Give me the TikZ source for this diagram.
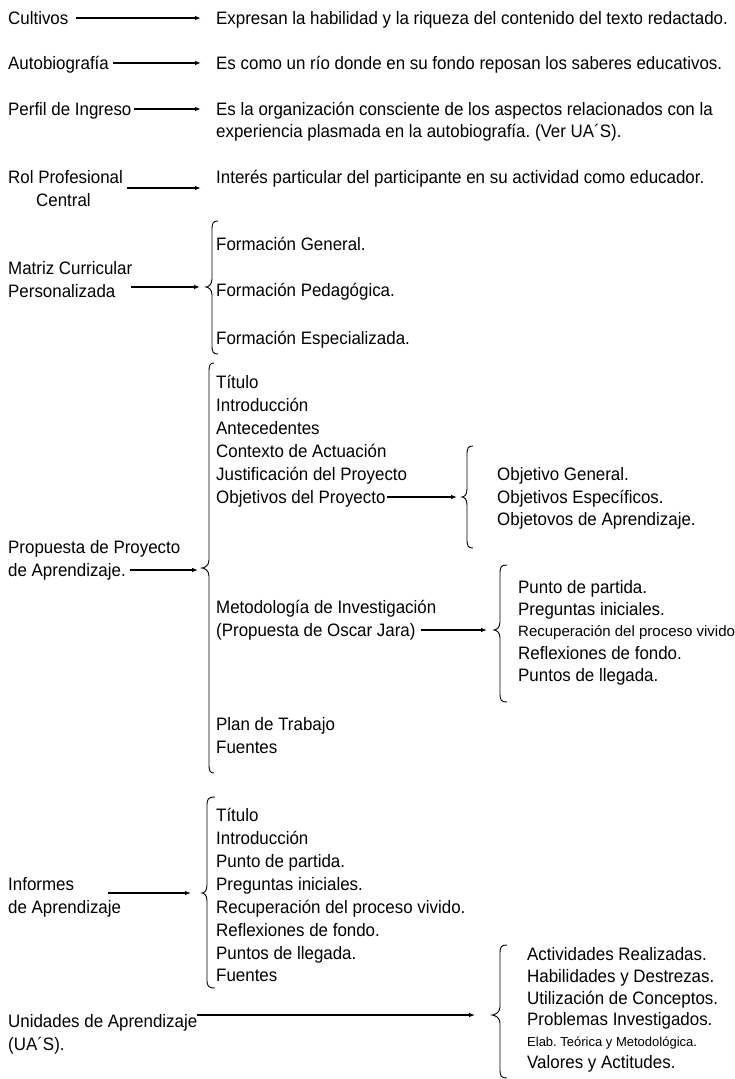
\documentclass[tikz,border=0pt]{standalone}
\usepackage{fontspec}
\setmainfont{Liberation Sans}[FakeStretch=0.94]
\newfontfamily\smallfam{Liberation Sans}
\usetikzlibrary{arrows.meta}
\frenchspacing
\tikzset{
  txt/.style={anchor=base west, inner sep=0pt, font=\frenchspacing\fontsize{18}{21}\selectfont},
  small/.style={txt, font=\frenchspacing\smallfam\fontsize{15}{17}\selectfont},
  tiny/.style={txt, font=\frenchspacing\smallfam\fontsize{13}{15}\selectfont},
  arr/.style={-{Latex[length=6pt,width=4.5pt]}, line width=1.1pt},
  bracestyle/.style={line width=0.9pt},
}
% #1 tip x, #2 vertical x, #3 hook x, #4 top y, #5 tip y, #6 bottom y
\newcommand\drawbrace[6]{%
  \draw[bracestyle] (#3,#4) .. controls ({#2+1},#4) and (#2,{#4+2}) .. (#2,{#4+9})
    -- (#2,{#5-8}) .. controls (#2,{#5-2}) and ({#1+2},#5) .. (#1,#5)
    .. controls ({#1+2},#5) and (#2,{#5+2}) .. (#2,{#5+8})
    -- (#2,{#6-9}) .. controls (#2,{#6-2}) and ({#2+1},#6) .. (#3,#6);}
\begin{document}
\begin{tikzpicture}[x=1pt,y=-1pt]
\useasboundingbox (0,0) rectangle (734,1079);
% Row 1
\node[txt] (cult) at (8,24) {Cultivos};
\node[txt] (cultd) at (216,24) {Expresan la habilidad y la riqueza del contenido del texto redactado.};
\coordinate (a1s) at (76,18); \coordinate (a1e) at (201,18);
\draw[arr] (a1s) -- (a1e);
% Row 2
\node[txt] (auto) at (8,69) {Autobiografía};
\node[txt] (autod) at (216,69) {Es como un río donde en su fondo reposan los saberes educativos.};
\coordinate (a2e) at (201,63);
\draw[arr] ([xshift=4pt,yshift=6pt]auto.base east) coordinate (a2s) -- (a2s -| a2e);
% Row 3
\node[txt] (perf) at (8,115) {Perfil de Ingreso};
\node[txt] (perfd1) at (216,115) {Es la organización consciente de los aspectos relacionados con la};
\node[txt] (perfd2) at (216,137) {experiencia plasmada en la autobiografía. (Ver UA´S).};
\coordinate (a3e) at (201,109);
\draw[arr] ([xshift=2pt,yshift=6pt]perf.base east) coordinate (a3s) -- (a3s -| a3e);
% Row 4
\node[txt] (rol1) at (8,183) {Rol Profesional};
\node[txt] (rol2) at (36,206) {Central};
\node[txt] (rold) at (216,183) {Interés particular del participante en su actividad como educador.};
\coordinate (a4s) at (127,188); \coordinate (a4e) at (201,188);
\draw[arr] (a4s) -- (a4e);
% Matriz
\node[txt] (mat1) at (8,274) {Matriz Curricular};
\node[txt] (mat2) at (8,297) {Personalizada};
\coordinate (a5s) at (131,287); \coordinate (a5e) at (200,287);
\draw[arr] (a5s) -- (a5e);
\drawbrace{206}{212}{218}{221}{287}{354}
\node[txt] (fg) at (216,250) {Formación General.};
\node[txt] (fp) at (216,296) {Formación Pedagógica.};
\node[txt] (fe) at (216,344) {Formación Especializada.};
% Propuesta
\drawbrace{202}{209}{214}{363}{568}{773}
\node[txt] (p1) at (216,388) {Título};
\node[txt] (p2) at (216,411) {Introducción};
\node[txt] (p3) at (216,434) {Antecedentes};
\node[txt] (p4) at (216,457) {Contexto de Actuación};
\node[txt] (p5) at (216,480) {Justificación del Proyecto};
\node[txt] (p6) at (216,503) {Objetivos del Proyecto};
\coordinate (a6e) at (457,497);
\draw[arr] ([xshift=1pt,yshift=6pt]p6.base east) coordinate (a6s) -- (a6s -| a6e);
\drawbrace{462}{467}{473}{446}{497}{548}
\node[txt] (o1) at (497,480) {Objetivo General.};
\node[txt] (o2) at (497,503) {Objetivos Específicos.};
\node[txt] (o3) at (497,525) {Objetovos de Aprendizaje.};
\node[txt] (prop1) at (8,553) {Propuesta de Proyecto};
\node[txt] (prop2) at (8,576) {de Aprendizaje.};
\coordinate (a7e) at (198,569);
\draw[arr] ([xshift=4pt,yshift=6pt]prop2.base east) coordinate (a7s) -- (a7s -| a7e);
\node[txt] (m1) at (216,613) {Metodología de Investigación};
\node[txt] (m2) at (216,636) {(Propuesta de Oscar Jara)};
\coordinate (a8e) at (487,630);
\draw[arr] ([xshift=5pt,yshift=6pt]m2.base east) coordinate (a8s) -- (a8s -| a8e);
\drawbrace{494}{500}{507}{565}{630}{702}
\node[txt] (j1) at (518,593) {Punto de partida.};
\node[txt] (j2) at (518,615) {Preguntas iniciales.};
\node[small] (j3) at (518,636) {Recuperación del proceso vivido};
\node[txt] (j4) at (518,659) {Reflexiones de fondo.};
\node[txt] (j5) at (518,681) {Puntos de llegada.};
\node[txt] (p7) at (216,730) {Plan de Trabajo};
\node[txt] (p8) at (216,753) {Fuentes};
% Informes
\drawbrace{202}{207}{215}{797}{893}{988}
\node[txt] (i1) at (216,821) {Título};
\node[txt] (i2) at (216,844) {Introducción};
\node[txt] (i3) at (216,867) {Punto de partida.};
\node[txt] (i4) at (216,890) {Preguntas iniciales.};
\node[txt] (i5) at (216,913) {Recuperación del proceso vivido.};
\node[txt] (i6) at (216,936) {Reflexiones de fondo.};
\node[txt] (i7) at (216,959) {Puntos de llegada.};
\node[txt] (i8) at (216,981) {Fuentes};
\node[txt] (inf1) at (8,890) {Informes};
\node[txt] (inf2) at (8,913) {de Aprendizaje};
\coordinate (a9s) at (108,893); \coordinate (a9e) at (191,893);
\draw[arr] (a9s) -- (a9e);
% Unidades
\node[txt] (uni1) at (8,1027) {Unidades de Aprendizaje};
\node[txt] (uni2) at (8,1050) {(UA´S).};
\coordinate (a10e) at (475,1015);
\draw[arr] ([xshift=0pt,yshift=12pt]uni1.base east) coordinate (a10s) -- (a10s -| a10e);
\drawbrace{492}{500}{507}{945}{1015}{1078}
\node[txt] (u1) at (527,960) {Actividades Realizadas.};
\node[txt] (u2) at (527,982) {Habilidades y Destrezas.};
\node[txt] (u3) at (527,1004) {Utilización de Conceptos.};
\node[txt] (u4) at (527,1025) {Problemas Investigados.};
\node[tiny] (u5) at (527,1046) {Elab. Teórica y Metodológica.};
\node[txt] (u6) at (527,1068) {Valores y Actitudes.};
\end{tikzpicture}
\end{document}
